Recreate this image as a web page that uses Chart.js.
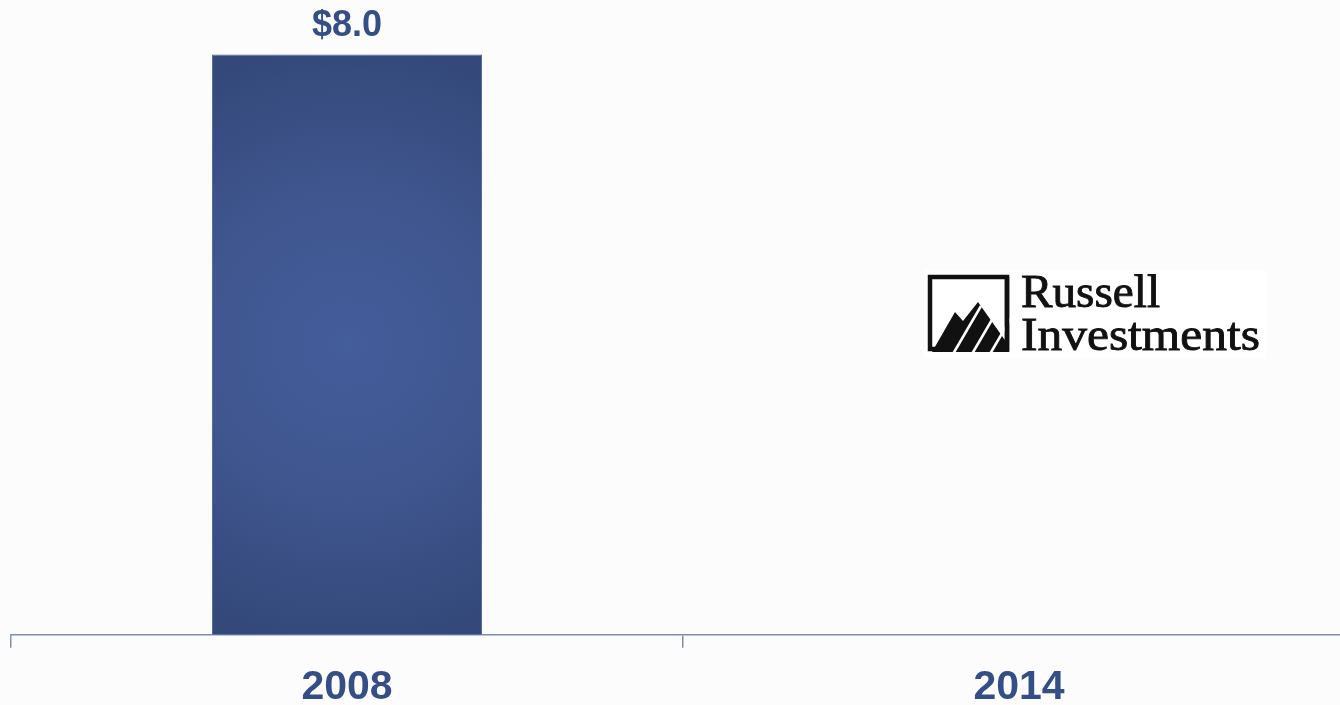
<!DOCTYPE html>
<html lang="en">
<head>
    <meta charset="UTF-8">
    <title>Assets 2008 vs 2014</title>
    <script src="https://cdn.jsdelivr.net/npm/chart.js"></script>
    <style>
        body, html {
            margin: 0;
            padding: 0;
            overflow: hidden;
            background-color: #fcfcfd;
            font-family: 'Liberation Sans', Arial, sans-serif;
        }
        .chart-box {
            position: relative;
            width: 1356px;
            height: 727px;
        }
    </style>
</head>
<body>
    <div class="chart-box">
        <canvas id="assetsChart"></canvas>
    </div>

    <script>
        // Dados
        const categories = ['2008', '2014'];
        const assetValues = [8.0, null];
        const valueLabels = ['$8.0', ''];

        const navy = '#354e86';
        const axisColor = '#7f8db0';

        // gradiente radial da barra
        function barFill(context) {
            const chart = context.chart;
            if (!chart.chartArea || context.raw == null) return '#3e5590';
            const x = chart.scales.x.getPixelForValue(context.dataIndex);
            const top = chart.scales.y.getPixelForValue(context.raw);
            const bottom = chart.scales.y.getPixelForValue(0);
            const cy = (top + bottom) / 2;
            const g = chart.ctx.createRadialGradient(x, cy, 0, x, cy, (bottom - top) / 2 + 10);
            g.addColorStop(0, '#445d9b');
            g.addColorStop(0.5, '#3f568f');
            g.addColorStop(1, '#34497a');
            return g;
        }

        // rótulos de valor acima das barras
        const valueLabelPlugin = {
            id: 'valueLabels',
            afterDatasetsDraw(chart) {
                const ctx = chart.ctx;
                const meta = chart.getDatasetMeta(0);
                ctx.save();
                ctx.font = 'bold 36px "Liberation Sans", Arial, sans-serif';
                ctx.fillStyle = navy;
                ctx.textAlign = 'center';
                ctx.textBaseline = 'alphabetic';
                meta.data.forEach((bar, i) => {
                    if (assetValues[i] == null) return;
                    ctx.fillText(valueLabels[i], bar.x, bar.y - 18);
                });
                ctx.restore();
            }
        };

        // logo Russell Investments
        const logoPlugin = {
            id: 'russellLogo',
            afterDraw(chart) {
                const ctx = chart.ctx;
                ctx.save();
                ctx.fillStyle = '#ffffff';
                ctx.fillRect(924, 270, 342, 88);

                ctx.strokeStyle = '#111111';
                ctx.lineWidth = 4.5;
                ctx.strokeRect(930, 277, 77, 72);

                ctx.fillStyle = '#111111';
                ctx.beginPath();
                ctx.moveTo(932, 352);
                ctx.lineTo(955, 312);
                ctx.lineTo(963, 321);
                ctx.lineTo(978, 302);
                ctx.lineTo(1007, 343);
                ctx.lineTo(1007, 352);
                ctx.closePath();
                ctx.fill();

                ctx.strokeStyle = '#ffffff';
                ctx.lineWidth = 2.5;
                [953, 972, 990].forEach(bx => {
                    ctx.beginPath();
                    ctx.moveTo(bx, 354);
                    ctx.lineTo(bx + 28, 306);
                    ctx.stroke();
                });
                ctx.strokeStyle = '#111111';
                ctx.lineWidth = 4.5;
                ctx.beginPath();
                ctx.moveTo(1007, 277);
                ctx.lineTo(1007, 352);
                ctx.stroke();

                ctx.fillStyle = '#111111';
                ctx.strokeStyle = '#111111';
                ctx.lineWidth = 0.9;
                ctx.font = '46px "Liberation Serif", "DejaVu Serif", serif';
                ctx.textBaseline = 'alphabetic';
                ctx.textAlign = 'left';
                [['Russell', 307, 139], ['Investments', 350, 239]].forEach(([txt, y, w]) => {
                    const mw = ctx.measureText(txt).width;
                    ctx.save();
                    ctx.translate(1021, y);
                    ctx.scale(w / mw, 1);
                    ctx.fillText(txt, 0, 0);
                    ctx.strokeText(txt, 0, 0);
                    ctx.restore();
                });
                ctx.restore();
            }
        };

        new Chart(document.getElementById('assetsChart').getContext('2d'), {
            type: 'bar',
            data: {
                labels: categories,
                datasets: [{
                    data: assetValues,
                    backgroundColor: barFill,
                    borderColor: '#4d6298',
                    borderWidth: 1,
                    barPercentage: 0.402,
                    categoryPercentage: 1
                }]
            },
            options: {
                responsive: true,
                maintainAspectRatio: false,
                animation: false,
                layout: { padding: { left: 11, right: 1, top: 0, bottom: 0 } },
                plugins: {
                    legend: { display: false },
                    tooltip: { enabled: false }
                },
                scales: {
                    x: {
                        border: { color: axisColor, width: 1.5 },
                        grid: {
                            offset: true,
                            drawOnChartArea: false,
                            color: axisColor,
                            lineWidth: 1.5,
                            tickLength: 13
                        },
                        ticks: {
                            color: navy,
                            padding: 15,
                            font: { family: '"Liberation Sans", Arial, sans-serif', size: 41, weight: 'bold' }
                        }
                    },
                    y: {
                        display: false,
                        min: 0,
                        max: 8.75
                    }
                }
            },
            plugins: [valueLabelPlugin, logoPlugin]
        });
    </script>
</body>
</html>
